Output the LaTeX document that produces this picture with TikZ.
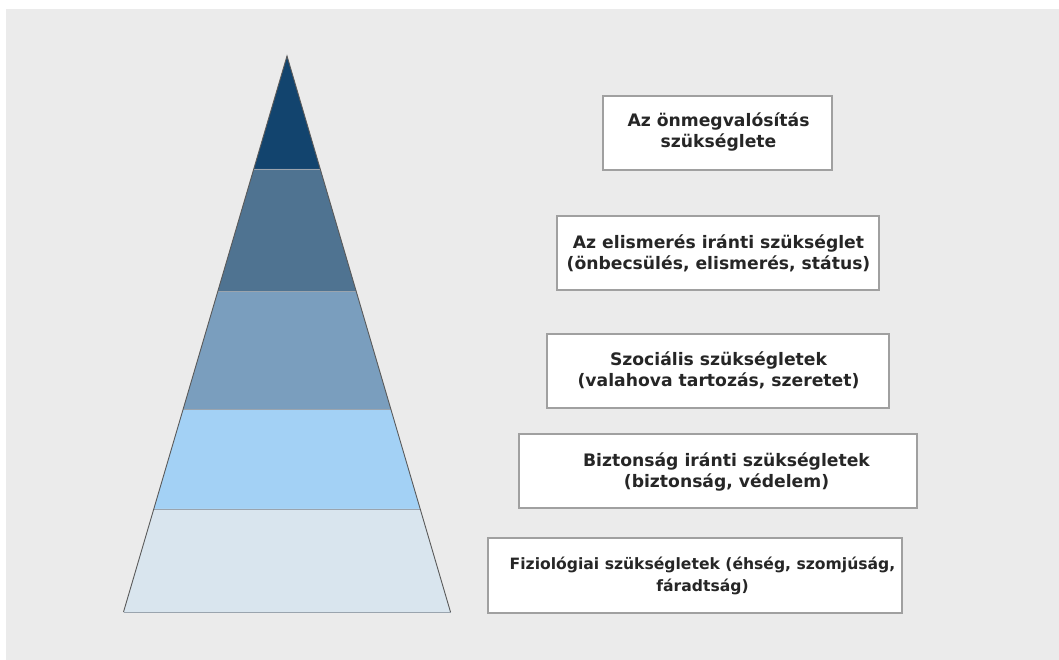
\documentclass[tikz,border=0pt]{standalone}
\usepackage{fontspec}
\setmainfont{DejaVu Sans}
\usetikzlibrary{calc}
\definecolor{bgc}{HTML}{EBEBEB}
\definecolor{lva}{HTML}{12446E}
\definecolor{lvb}{HTML}{4F7391}
\definecolor{lvc}{HTML}{7A9EBE}
\definecolor{lvd}{HTML}{A3D1F5}
\definecolor{lve}{HTML}{D9E5EE}
\definecolor{boxline}{HTML}{A0A0A0}
\definecolor{edgec}{HTML}{5A5A5A}
\definecolor{divc}{HTML}{9AA4AE}
\tikzset{
  needbox/.style={draw=boxline, line width=1.2pt, fill=white, inner sep=0pt},
  needtext/.style={align=center, font=\bfseries\fontsize{17.2}{21}\selectfont, text=black!85, inner sep=0pt},
  smalltext/.style={needtext, font=\bfseries\fontsize{15.6}{22}\selectfont},
  divline/.style={draw=divc, line width=0.8pt},
  sideline/.style={draw=edgec, line width=0.9pt}
}
\begin{document}
\begin{tikzpicture}[x=1pt,y=-1pt]
\useasboundingbox (0,0) rectangle (1059,660);
\fill[white] (0,0) rectangle (1059,660);
\fill[bgc] (6,9) rectangle (1059,660);
% pyramid
\coordinate (A) at (287,56);
\coordinate (BL) at (123.5,612);
\coordinate (BR) at (450.5,612);
\coordinate (L1) at ($(A)!0.2032!(BL)$);
\coordinate (R1) at ($(A)!0.2032!(BR)$);
\coordinate (L2) at ($(A)!0.4227!(BL)$);
\coordinate (R2) at ($(A)!0.4227!(BR)$);
\coordinate (L3) at ($(A)!0.6349!(BL)$);
\coordinate (R3) at ($(A)!0.6349!(BR)$);
\coordinate (L4) at ($(A)!0.8147!(BL)$);
\coordinate (R4) at ($(A)!0.8147!(BR)$);
\fill[lva] (A) -- (R1) -- (L1) -- cycle;
\fill[lvb] (L1) -- (R1) -- (R2) -- (L2) -- cycle;
\fill[lvc] (L2) -- (R2) -- (R3) -- (L3) -- cycle;
\fill[lvd] (L3) -- (R3) -- (R4) -- (L4) -- cycle;
\fill[lve] (L4) -- (R4) -- (BR) -- (BL) -- cycle;
\draw[divline] (L1) -- (R1);
\draw[divline] (L2) -- (R2);
\draw[divline] (L3) -- (R3);
\draw[divline] (L4) -- (R4);
\draw[divline] (BL) -- (BR);
\draw[sideline] (BL) -- (A) -- (BR);
% boxes
\node[needbox, minimum width=229pt, minimum height=74pt] (b1) at (717.5,133) {};
\node[needbox, minimum width=322pt, minimum height=74pt] (b2) at (718,253) {};
\node[needbox, minimum width=342pt, minimum height=74pt] (b3) at (718,371) {};
\node[needbox, minimum width=398pt, minimum height=74pt] (b4) at (718,471) {};
\node[needbox, minimum width=414pt, minimum height=75pt] (b5) at (695,575.5) {};
\node[needtext] (t1) at (718.5,132) {Az önmegvalósítás\\szükséglete};
\node[needtext] (t2) at (718.5,253) {Az elismerés iránti szükséglet\\(önbecsülés, elismerés, státus)};
\node[needtext] (t3) at (718.5,370) {Szociális szükségletek\\(valahova tartozás, szeretet)};
\node[needtext] (t4) at (726.5,471.5) {Biztonság iránti szükségletek\\(biztonság, védelem)};
\node[smalltext] (t5) at (702.5,576) {Fiziológiai szükségletek (éhség, szomjúság,\\fáradtság)};
\end{tikzpicture}
\end{document}
